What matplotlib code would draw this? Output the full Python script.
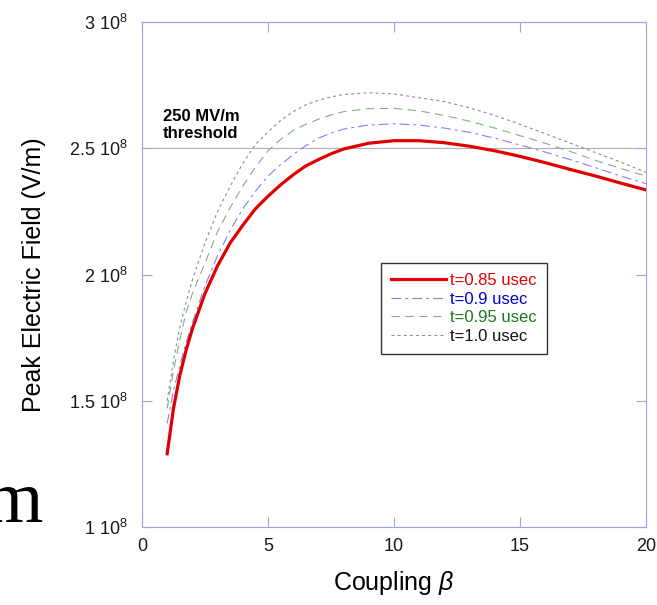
import numpy as np
import matplotlib
matplotlib.use('Agg')
import matplotlib.pyplot as plt

plt.rcParams['font.family'] = ['Liberation Sans', 'DejaVu Sans']
plt.rcParams['mathtext.fontset'] = 'custom'
plt.rcParams['mathtext.rm'] = 'Liberation Sans'
plt.rcParams['mathtext.it'] = 'Liberation Sans:italic'
plt.rcParams['lines.scale_dashes'] = False

# coupling beta
beta = [1, 1.25, 1.5, 1.75, 2, 2.5, 3, 3.5, 4, 4.5, 5, 5.5, 6, 6.5, 7, 7.5, 8,
        9, 10, 11, 12, 13, 14, 15, 16, 17, 18, 19, 20]

# peak field in units of 1e8 V/m
e_085 = [1.29, 1.47, 1.60, 1.70, 1.785, 1.925, 2.035, 2.125, 2.195, 2.26, 2.31, 2.355,
         2.395, 2.43, 2.455, 2.478, 2.497, 2.52, 2.53, 2.53, 2.522, 2.508, 2.49, 2.468,
         2.443, 2.416, 2.39, 2.362, 2.335]
e_090 = [1.41, 1.54, 1.64, 1.73, 1.81, 1.955, 2.075, 2.175, 2.26, 2.33, 2.39, 2.435,
         2.475, 2.51, 2.54, 2.56, 2.576, 2.592, 2.597, 2.592, 2.58, 2.563, 2.54, 2.513,
         2.485, 2.455, 2.423, 2.39, 2.36]
e_095 = [1.47, 1.62, 1.74, 1.85, 1.925, 2.045, 2.17, 2.265, 2.35, 2.425, 2.49, 2.535,
         2.57, 2.595, 2.615, 2.632, 2.645, 2.657, 2.658, 2.648, 2.63, 2.607, 2.58, 2.55,
         2.52, 2.487, 2.452, 2.42, 2.39]
e_100 = [1.50, 1.66, 1.79, 1.89, 1.98, 2.125, 2.25, 2.35, 2.44, 2.515, 2.565, 2.61,
         2.645, 2.672, 2.69, 2.703, 2.713, 2.72, 2.715, 2.70, 2.685, 2.66, 2.63, 2.595,
         2.558, 2.52, 2.483, 2.445, 2.405]

labels = ['t=0.85 usec', 't=0.9 usec', 't=0.95 usec', 't=1.0 usec']
threshold = 2.5

b = np.array(beta)

fig = plt.figure(figsize=(6.57, 6.05), dpi=100)
ax = fig.add_axes([0.2161, 0.1289, 0.7671, 0.8347])

spine_col = '#a0a0f0'
ax.axhline(threshold * 1e8, color='#b0b0b0', lw=0.8, zorder=1)

ax.plot(b, np.array(e_085) * 1e8, color='#e00000', lw=2.3, label=labels[0], zorder=5)
ax.plot(b, np.array(e_090) * 1e8, color='#8080ff', lw=0.8, ls=(0, (7, 3, 2, 3)), label=labels[1])
ax.plot(b, np.array(e_095) * 1e8, color='#80b080', lw=0.8, ls=(0, (6, 4)), label=labels[2])
ax.plot(b, np.array(e_100) * 1e8, color='#909090', lw=0.8, ls=(0, (2.2, 2.2)), label=labels[3])

ax.set_xlim(0, 20)
ax.set_ylim(1e8, 3e8)
ax.set_xticks([0, 5, 10, 15, 20])
ax.set_yticks([1e8, 1.5e8, 2e8, 2.5e8, 3e8])
ax.set_yticklabels(['1 10$^{8}$', '1.5 10$^{8}$', '2 10$^{8}$', '2.5 10$^{8}$', '3 10$^{8}$'])
ax.tick_params(direction='in', length=7, width=0.8, color=spine_col, labelsize=13,
               top=True, right=True, labelcolor='#1a1a1a')
ax.tick_params(axis='x', pad=8)
ax.tick_params(axis='y', pad=10)
for s in ax.spines.values():
    s.set_color(spine_col)
    s.set_linewidth(0.8)

ax.set_xlabel(r'Coupling $\beta$', fontsize=18, labelpad=10)
ax.set_ylabel('Peak Electric Field (V/m)', fontsize=18, labelpad=17)

ax.text(0.042, 0.796, '250 MV/m\nthreshold', transform=ax.transAxes, fontsize=12,
        fontweight='bold', va='center', ha='left', linespacing=1.1)

leg = ax.legend(loc='upper left', bbox_to_anchor=(0.474, 0.523), fontsize=12,
                frameon=True, fancybox=False, edgecolor='#333333', framealpha=1,
                handlelength=3.3, handletextpad=0.25, labelspacing=0.22, borderpad=0.6,
                borderaxespad=0)
leg.get_frame().set_linewidth(1.0)
for t, c in zip(leg.get_texts(), ['#e00000', '#0000cc', '#1a7a1a', '#111111']):
    t.set_color(c)

# stray fragment of slide text at lower left
fig.text(43 / 657, 1 - 522 / 605, 'm', family=['Liberation Serif', 'DejaVu Serif'],
         fontsize=54, ha='right', va='baseline')

fig.savefig('out.png', dpi=100)
